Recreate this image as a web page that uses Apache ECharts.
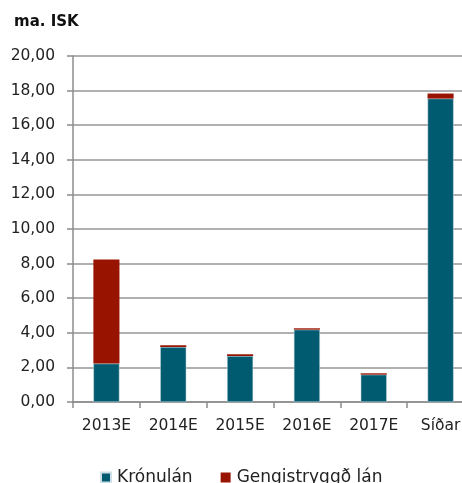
<!DOCTYPE html>
<html><head><meta charset="utf-8">
<script src="https://cdn.jsdelivr.net/npm/echarts@6/dist/echarts.min.js"></script>
<style>html,body{margin:0;padding:0;background:#fff;overflow:hidden}#c{width:474px;height:483px}</style>
</head><body><div id="c"></div>
<script>
const categories = ['2013E','2014E','2015E','2016E','2017E','Síðar'];
const kronulan = [2.22, 3.18, 2.66, 4.18, 1.58, 17.54];
const gengistryggd = [6.01, 0.10, 0.10, 0.08, 0.08, 0.29];
const seriesNames = ['Krónulán','Gengistryggð lán'];
const yTitle = 'ma. ISK';

const FONT = '"DejaVu Sans", sans-serif';
const chart = echarts.init(document.getElementById('c'), null, {renderer:'canvas'});
chart.setOption({
  animation:false,
  title:{text:yTitle,left:9,top:10,textStyle:{fontFamily:FONT,fontSize:15,fontWeight:'bold',color:'#111'}},
  grid:{left:73,right:0,top:56,bottom:81,containLabel:false},
  legend:{top:464,left:95,itemWidth:10,itemHeight:10,itemGap:28,icon:'rect',
    textStyle:{fontFamily:FONT,fontSize:17,color:'#222',padding:[0,0,0,1]},
    data:seriesNames},
  xAxis:{type:'category',data:categories,
    axisLine:{lineStyle:{color:'#8c8c8c',width:1.5}},
    axisTick:{show:true,interval:0,length:6,lineStyle:{color:'#8c8c8c',width:1.5}},
    axisLabel:{interval:0,fontFamily:FONT,fontSize:15.5,color:'#222',margin:16}},
  yAxis:{type:'value',min:0,max:20,interval:2,
    axisLine:{show:true,lineStyle:{color:'#8c8c8c',width:1.5}},
    axisTick:{show:true,length:6,lineStyle:{color:'#8c8c8c',width:1.5}},
    splitLine:{lineStyle:{color:'#969696',width:1.5}},
    axisLabel:{fontFamily:FONT,fontSize:15.5,color:'#222',margin:18,
      formatter:v=>v.toFixed(2).replace('.',',')}},
  series:[
    {name:seriesNames[0],type:'bar',stack:'a',data:kronulan,barWidth:'39%',
      itemStyle:{color:'#005A70',borderColor:'#cfe0e6',borderWidth:0.5}},
    {name:seriesNames[1],type:'bar',stack:'a',data:gengistryggd,barWidth:'39%',
      itemStyle:{color:'#991400'}}
  ]
});
</script></body></html>
